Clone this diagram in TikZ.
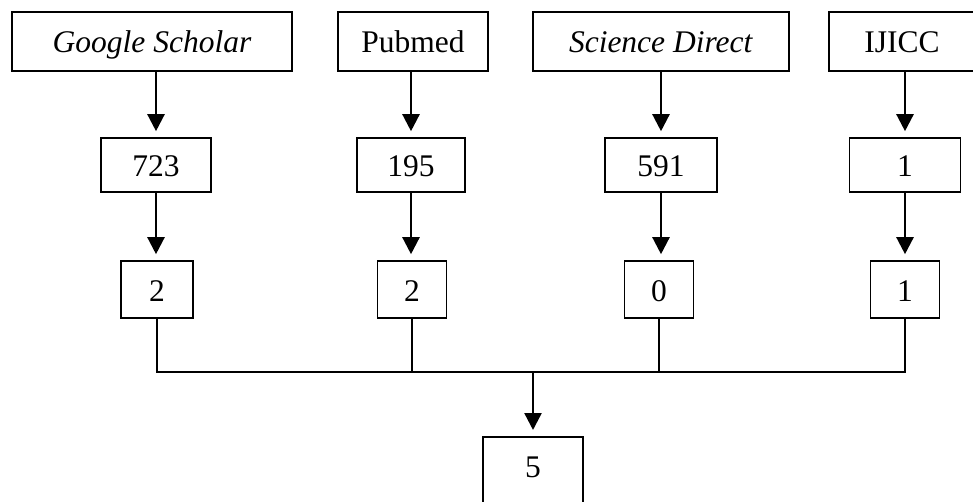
\documentclass[tikz,border=0pt]{standalone}
\usepackage{fontspec}
\setmainfont{Liberation Serif}
\usetikzlibrary{arrows.meta}

\begin{document}
\begin{tikzpicture}[x=1pt,y=-1pt,
  box/.style={draw,line width=1.6pt,inner sep=0pt,text height=23pt,text depth=0pt,font=\fontsize{31.5}{36}\selectfont},
  arr/.style={line width=2.4pt,-{Triangle[length=17pt,width=17pt]},shorten >=6pt},
  link/.style={line width=1.4pt}]
  \useasboundingbox (0,0) rectangle (973,502);
  \node[box,minimum width=280pt,minimum height=59pt] (gs) at (152,41.5) {\textit{Google Scholar}};
  \node[box,minimum width=150pt,minimum height=59pt] (pm) at (413,41.5) {Pubmed};
  \node[box,minimum width=256pt,minimum height=59pt] (sd) at (661,41.5) {\textit{Science Direct}};
  \node[box,minimum width=146pt,minimum height=59pt] (ij) at (902,41.5) {IJICC};
  \node[box,minimum width=110pt,minimum height=54pt] (a1) at (156,165) {723};
  \node[box,minimum width=108pt,minimum height=54pt] (a2) at (411,165) {195};
  \node[box,minimum width=112pt,minimum height=54pt] (a3) at (661,165) {591};
  \node[box,minimum width=111pt,minimum height=54pt] (a4) at (905,165) {1};
  \node[box,minimum width=72pt,minimum height=57pt] (b1) at (157,289.5) {2};
  \node[box,minimum width=69pt,minimum height=57pt] (b2) at (412,289.5) {2};
  \node[box,minimum width=69pt,minimum height=57pt] (b3) at (659,289.5) {0};
  \node[box,minimum width=69pt,minimum height=57pt] (b4) at (905,289.5) {1};
  \node[box,minimum width=100pt,minimum height=80pt,anchor=north] (tot) at (533,436) {\raisebox{10.5pt}{5}};
  \coordinate (hub) at (533,372);
  \foreach \a/\b in {gs/a1,pm/a2,sd/a3,ij/a4} \draw[arr] (\a.south -| \b.north) -- (\b.north);
  \foreach \a/\b in {a1/b1,a2/b2,a3/b3,a4/b4} \draw[arr] (\a.south) -- (\a.south |- \b.north);
  \draw[link] (b1.south) |- (b4.south |- hub) -- (b4.south);
  \draw[link] (b2.south) -- (b2.south |- hub);
  \draw[link] (b3.south) -- (b3.south |- hub);
  \draw[arr] (hub) -- (tot.north);
\end{tikzpicture}
\end{document}
